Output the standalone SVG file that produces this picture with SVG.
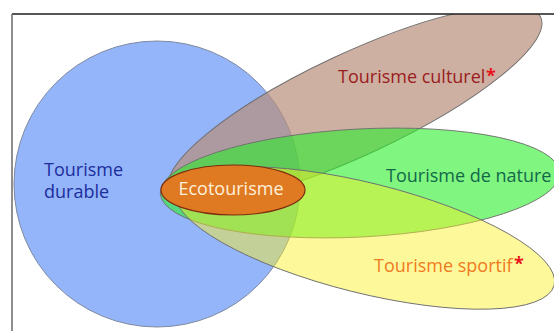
<svg xmlns="http://www.w3.org/2000/svg" width="554" height="331" viewBox="0 0 554 331">
<style>
.lbl{font-family:"Open Sans","Noto Sans","DejaVu Sans",sans-serif;font-size:18px}
.edge{stroke:#6e6e6e;stroke-width:0.9}
.star{fill:#e8141a;font-weight:bold}
</style>
<defs>
<clipPath id="frame"><rect x="12" y="14" width="542" height="317"/></clipPath>
</defs>
<rect width="554" height="331" fill="#ffffff"/>
<g clip-path="url(#frame)">
<g id="durable">
<circle cx="157" cy="184" r="143" fill="#94b5f9" stroke="#7f8aa0" stroke-width="1"/>
<text class="lbl" x="44" y="176" fill="#1c2d9c" font-size="17.5">Tourisme</text>
<text class="lbl" x="44" y="198" fill="#1c2d9c" font-size="17.5">durable</text>
</g>
<g id="culturel">
<ellipse cx="355" cy="104" rx="205" ry="51" transform="rotate(-25 355 104)" fill="#b88e7a" fill-opacity="0.7" class="edge"/>
<text class="lbl" x="338" y="83" fill="#9b1c1c" font-size="18.5">Tourisme culturel</text>
<text class="lbl star" x="486" y="82">*</text>
</g>
<g id="nature">
<ellipse cx="360" cy="183" rx="200" ry="54" transform="rotate(-3 360 183)" fill="#2bee2b" fill-opacity="0.6" class="edge"/>
<text class="lbl" x="386" y="182" fill="#12694a">Tourisme de nature</text>
</g>
<g id="sportif">
<ellipse cx="365" cy="238" rx="195" ry="55" transform="rotate(14 365 238)" fill="#faf023" fill-opacity="0.46" class="edge"/>
<text class="lbl" x="374" y="272" fill="#f07a22" font-size="18.5">Tourisme sportif</text>
<text class="lbl star" x="514" y="270">*</text>
</g>
<g id="ecotourisme">
<ellipse cx="233" cy="190" rx="72" ry="25" fill="#e07a22" stroke="#7e2c10" stroke-width="1.2"/>
<text class="lbl" x="231" y="195" fill="#fdf0dc" font-size="19" text-anchor="middle">Ecotourisme</text>
</g>
</g>
<g id="connectors"/>
<g id="frame-lines">
<line x1="12" y1="14" x2="554" y2="14" stroke="#1e1e1e" stroke-width="1.5"/>
<line x1="12" y1="14" x2="12" y2="331" stroke="#6a6a6a" stroke-width="1.5"/>
</g>
</svg>
